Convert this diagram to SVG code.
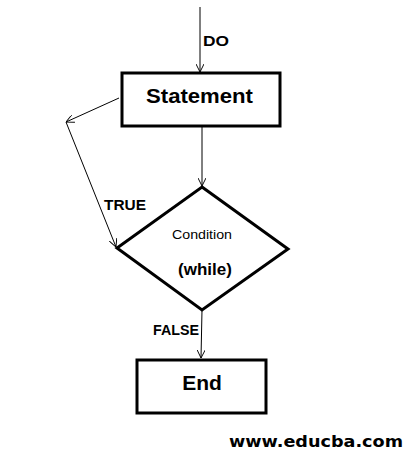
<svg xmlns="http://www.w3.org/2000/svg" width="412" height="458" viewBox="0 0 412 458">
<style>
.box{fill:#fff;stroke:#000;stroke-width:3}
.ln{fill:none;stroke:#000;stroke-width:1}
.t{font-family:"Liberation Sans",Arial,sans-serif;font-weight:bold;fill:#000}
</style>
<defs>
<marker id="ah" viewBox="0 0 10 10" refX="10" refY="5" markerWidth="8" markerHeight="8" orient="auto" markerUnits="userSpaceOnUse">
<path d="M0,0 L10,5 L0,10" fill="none" stroke="#000" stroke-width="1.2"/>
</marker>
</defs>
<rect width="412" height="458" fill="#fff"/>
<g id="connectors">
<line class="ln" x1="200" y1="7" x2="200" y2="72" marker-end="url(#ah)"/>
<line class="ln" x1="202" y1="126" x2="202" y2="186" marker-end="url(#ah)"/>
<polyline class="ln" points="119,98 66,122" marker-end="url(#ah)"/>
<line class="ln" x1="66" y1="122" x2="116" y2="247" marker-end="url(#ah)"/>
<line class="ln" x1="202" y1="310" x2="201" y2="358" marker-end="url(#ah)"/>
<text class="t" x="203" y="46" font-size="15" textLength="26" lengthAdjust="spacingAndGlyphs">DO</text>
<text class="t" x="104" y="210" font-size="14.5" textLength="42" lengthAdjust="spacingAndGlyphs">TRUE</text>
<text class="t" x="153" y="335" font-size="14" textLength="46" lengthAdjust="spacingAndGlyphs">FALSE</text>
</g>
<g id="statement">
<rect class="box" x="122" y="73" width="158" height="53"/>
<text class="t" x="146" y="103" font-size="20" textLength="107" lengthAdjust="spacingAndGlyphs">Statement</text>
</g>
<g id="condition">
<polygon class="box" points="202,187 288,249 202,310 117,248"/>
<text class="t" x="172" y="239" font-size="13" style="font-weight:normal" textLength="60" lengthAdjust="spacingAndGlyphs">Condition</text>
<text class="t" x="205" y="275" font-size="17" text-anchor="middle">(while)</text>
</g>
<g id="end">
<rect class="box" x="137" y="360" width="129" height="53"/>
<text class="t" x="202" y="390" font-size="21" text-anchor="middle">End</text>
</g>
<text x="229" y="447" font-family="'DejaVu Sans',Verdana,sans-serif" font-weight="bold" font-size="16" textLength="174" lengthAdjust="spacingAndGlyphs">www.educba.com</text>
</svg>
